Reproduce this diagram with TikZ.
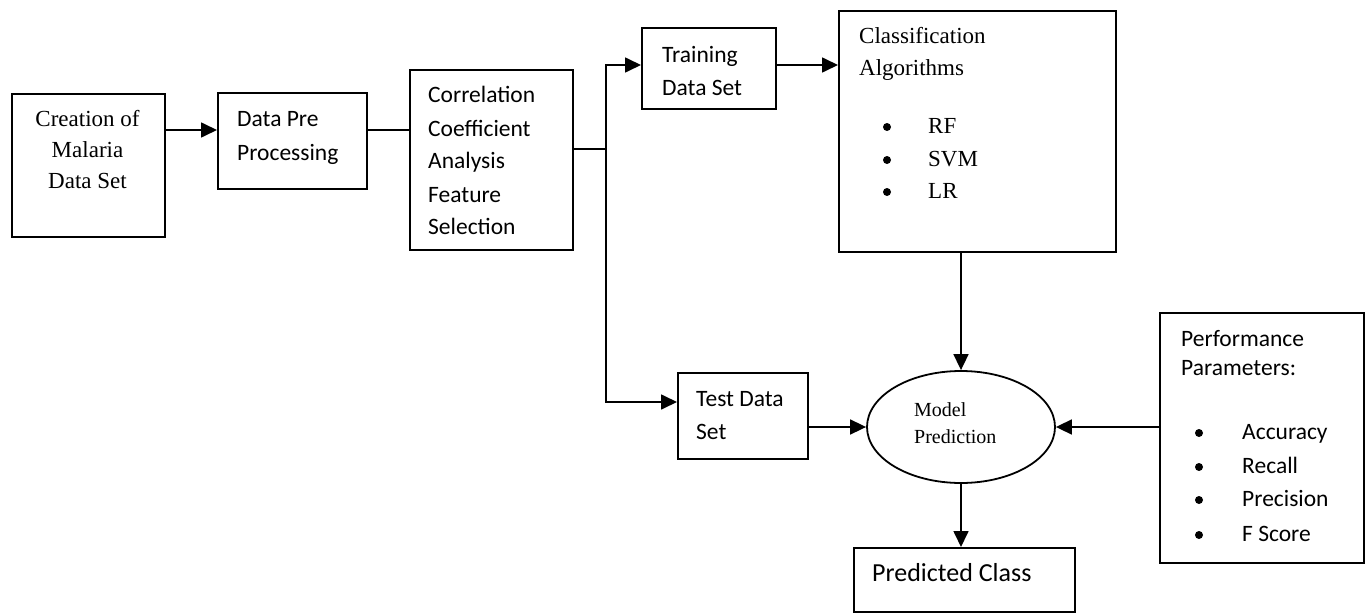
\documentclass[tikz,border=0pt]{standalone}
\usepackage{fontspec}
\setmainfont{Liberation Serif}
\newfontfamily\bodysans{Carlito}
\usetikzlibrary{shapes.geometric,arrows.meta}

\begin{document}
\begin{tikzpicture}[x=1pt,y=-1pt,
  stagebox/.style={draw, line width=1.8pt, rectangle, inner sep=0pt, anchor=north west},
  serifline/.style={font=\fontsize{23}{31}\selectfont, inner sep=0pt, anchor=base west},
  sansline/.style={font=\bodysans\fontsize{23.5}{33}\selectfont, inner sep=0pt, anchor=base west},
  dotmark/.style={circle, fill, inner sep=0pt, minimum size=8pt},
  arr/.style={line width=1.7pt, -{Triangle[length=16pt,width=15pt]}},
  wire/.style={line width=1.7pt}
]
\useasboundingbox (0,0) rectangle (1369,613);

% processing stages
\node[stagebox, minimum width=153pt, minimum height=143pt] (create) at (11,93) {};
\node[stagebox, minimum width=149pt, minimum height=96pt] (prep) at (217,92) {};
\node[stagebox, minimum width=163pt, minimum height=180pt] (corr) at (409,69) {};
\node[stagebox, minimum width=134pt, minimum height=81pt] (train) at (641,27) {};
\node[stagebox, minimum width=277pt, minimum height=241pt] (algo) at (838,10) {};
\node[stagebox, minimum width=130pt, minimum height=86pt] (test) at (677,372) {};
\node[draw, line width=1.8pt, ellipse, inner sep=0pt, minimum width=188pt, minimum height=112pt] (model) at (961,427) {};
\node[stagebox, minimum width=204pt, minimum height=250pt] (perf) at (1159,312) {};
\node[stagebox, minimum width=221pt, minimum height=64pt] (pred) at (853,547) {};

% stage texts
\node[font=\fontsize{23}{31}\selectfont, inner sep=0pt, anchor=base] (t1a) at (87.5,126) {Creation of};
\node[font=\fontsize{23}{31}\selectfont, inner sep=0pt, anchor=base] (t1b) at (87.5,157) {Malaria};
\node[font=\fontsize{23}{31}\selectfont, inner sep=0pt, anchor=base] (t1c) at (87.5,188) {Data Set};

\node[sansline] (t2a) at (237,126) {Data Pre};
\node[sansline] (t2b) at (237,160) {Processing};

\node[sansline] (t3a) at (428,102) {Correlation};
\node[sansline] (t3b) at (428,136) {Coefficient};
\node[sansline] (t3c) at (428,168) {Analysis};
\node[sansline] (t3d) at (428,202) {Feature};
\node[sansline] (t3e) at (428,234) {Selection};

\node[sansline] (t4a) at (662,62) {Training};
\node[sansline] (t4b) at (662,95) {Data Set};

\node[serifline] (t5a) at (859,43) {Classification};
\node[serifline] (t5b) at (859,75) {Algorithms};
\node[dotmark] (d5a) at (887,127) {};
\node[dotmark] (d5b) at (887,160) {};
\node[dotmark] (d5c) at (887,192) {};
\node[serifline] (t5c) at (928,133) {RF};
\node[serifline] (t5d) at (928,166) {SVM};
\node[serifline] (t5e) at (928,198) {LR};

\node[sansline] (t6a) at (696,406) {Test Data};
\node[sansline] (t6b) at (696,439) {Set};

\node[font=\fontsize{20}{27}\selectfont, inner sep=0pt, anchor=base west] (t7a) at (914,416) {Model};
\node[font=\fontsize{20}{27}\selectfont, inner sep=0pt, anchor=base west] (t7b) at (914,443) {Prediction};

\node[sansline] (t8a) at (1181,346) {Performance};
\node[sansline] (t8b) at (1181,375) {Parameters:};
\node[dotmark] (d8a) at (1199,433) {};
\node[dotmark] (d8b) at (1199,467) {};
\node[dotmark] (d8c) at (1199,500) {};
\node[dotmark] (d8d) at (1199,535) {};
\node[sansline] (t8c) at (1242,439) {Accuracy};
\node[sansline] (t8d) at (1242,473) {Recall};
\node[sansline] (t8e) at (1242,506) {Precision};
\node[sansline] (t8f) at (1242,541) {F Score};

\node[font=\bodysans\fontsize{26}{32}\selectfont, inner sep=0pt, anchor=base west] (t9) at (872,581) {Predicted Class};

% routing levels
\coordinate (row1) at (0,130);
\coordinate (row2) at (0,149);
\coordinate (row3) at (0,65);
\coordinate (row4) at (0,402);
\coordinate (split) at (606,149);

% connectors
\draw[arr] (create.east |- row1) -- (prep.west |- row1);
\draw[wire] (prep.east |- row1) -- (corr.west |- row1);
\draw[wire] (corr.east |- row2) -- (split);
\draw[arr] (split) |- (train.west |- row3);
\draw[arr] (split) |- (test.west |- row4);
\draw[arr] (train.east |- row3) -- (algo.west |- row3);
\draw[arr] (model.north |- algo.south) -- (model.north);
\draw[arr] (test.east |- model.west) -- (model.west);
\draw[arr] (perf.west |- model.east) -- (model.east);
\draw[arr] (model.south) -- (model.south |- pred.north);

\end{tikzpicture}
\end{document}
